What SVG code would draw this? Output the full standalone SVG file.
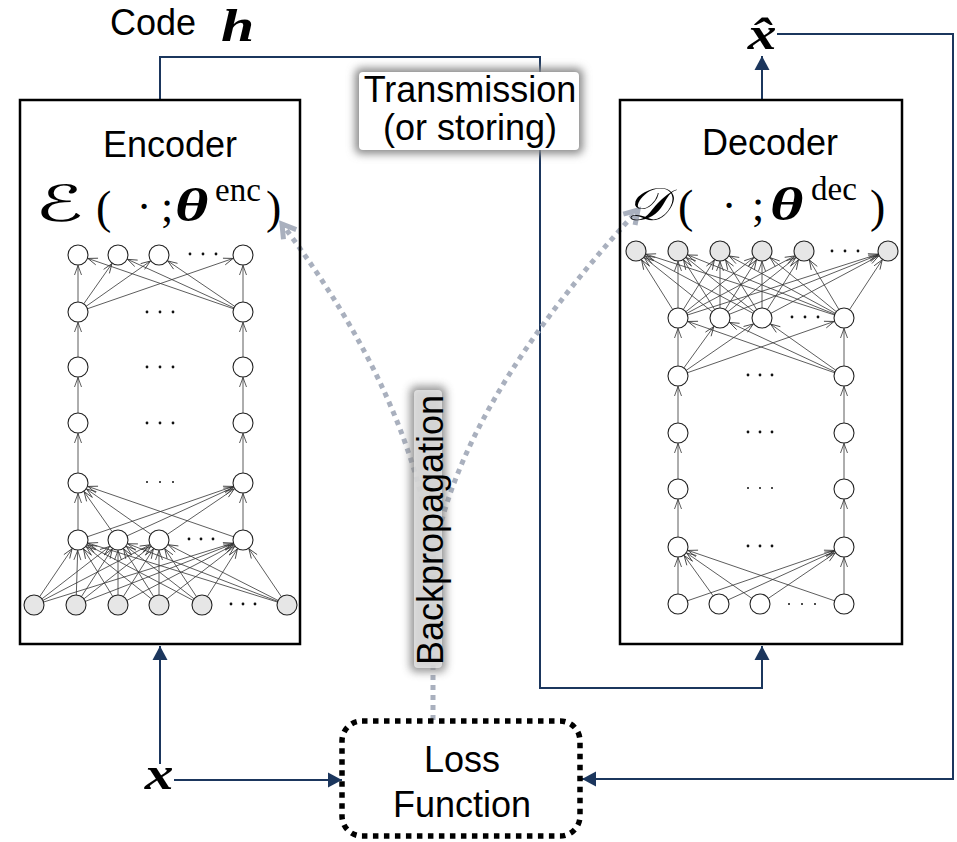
<svg xmlns="http://www.w3.org/2000/svg" width="957" height="842" viewBox="0 0 957 842">
<style>
.t{font-family:"Liberation Sans",Arial,sans-serif;font-size:36px;fill:#000}
.mi{font-family:"Liberation Serif","DejaVu Serif",serif;font-style:italic;font-weight:bold;fill:#000}
.mr{font-family:"Liberation Serif","DejaVu Serif",serif;fill:#000}
.cal{font-family:"DejaVu Serif","DejaVu Sans",serif;font-style:italic;fill:#000}
.box{fill:none;stroke:#000;stroke-width:2.5}
.c{stroke:#1b365d;stroke-width:2;fill:none}
.ca{stroke:#1b365d;stroke-width:2;fill:none;marker-end:url(#ah)}
.bp{stroke:#a9b0be;stroke-width:5;fill:none;stroke-dasharray:5 5}
.e{stroke:#333;stroke-width:0.8;marker-end:url(#va)}
.n{fill:#fff;stroke:#222;stroke-width:1.1}
.g{fill:#e6e6e6;stroke:#222;stroke-width:1.1}
.d{fill:#111}
</style>
<defs>
<marker id="ah" markerUnits="userSpaceOnUse" orient="auto" overflow="visible" markerWidth="1" markerHeight="1" refX="0" refY="0">
<path d="M-14,-7.5 L0,0 L-14,7.5 z" fill="#1b365d"/>
</marker>
<marker id="va" markerUnits="userSpaceOnUse" orient="auto" overflow="visible" markerWidth="1" markerHeight="1" refX="0" refY="0">
<path d="M-20,-3.5 L-10.5,0 L-20,3.5" fill="none" stroke="#333" stroke-width="0.8"/>
</marker>
<marker id="ga" markerUnits="userSpaceOnUse" orient="auto" overflow="visible" markerWidth="1" markerHeight="1" refX="0" refY="0">
<path d="M-13,-8 L0,0 L-13,8" fill="none" stroke="#a9b0be" stroke-width="5"/>
</marker>
<filter id="blur" x="-30%" y="-30%" width="160%" height="160%">
<feGaussianBlur stdDeviation="4"/>
</filter>
</defs>

<g id="connectors">
<polyline class="ca" points="160,100 160,57 540,57 540,688 762,688 762,646"/>
<polyline class="ca" points="762,100 762,56"/>
<polyline class="ca" points="777,34 953,34 953,779 582,779"/>
<polyline class="ca" points="160,764 160,646"/>
<polyline class="ca" points="174,780 342,780"/>
<path class="bp" d="M433,720 L433,560 Q415,400 282,224" marker-end="url(#ga)"/>
<path class="bp" d="M433,560 Q458,405 638,210" marker-end="url(#ga)"/>
</g>

<g id="encoder">
<rect class="box" x="20" y="100" width="280" height="544"/>
<text class="t" x="170" y="157" text-anchor="middle">Encoder</text>
<text class="cal" transform="translate(35,221) scale(1.6,1)" font-size="50">ℰ</text>
<text class="mr" x="96" y="223" font-size="46">(</text>
<text class="mr" x="144" y="221" font-size="44" text-anchor="middle">·</text>
<text class="mr" x="161" y="221" font-size="44">;</text>
<text class="mi" transform="translate(175,221) scale(1.4,1)" font-size="46">θ</text>
<text class="mr" x="215" y="201" font-size="33">enc</text>
<text class="mr" x="266" y="223" font-size="46">)</text>
<g>
<line class="e" x1="34" y1="605" x2="78" y2="540"/><line class="e" x1="34" y1="605" x2="118" y2="540"/><line class="e" x1="34" y1="605" x2="159" y2="540"/><line class="e" x1="34" y1="605" x2="243" y2="540"/>
<line class="e" x1="76" y1="605" x2="78" y2="540"/><line class="e" x1="76" y1="605" x2="118" y2="540"/><line class="e" x1="76" y1="605" x2="159" y2="540"/><line class="e" x1="76" y1="605" x2="243" y2="540"/>
<line class="e" x1="118" y1="605" x2="78" y2="540"/><line class="e" x1="118" y1="605" x2="118" y2="540"/><line class="e" x1="118" y1="605" x2="159" y2="540"/><line class="e" x1="118" y1="605" x2="243" y2="540"/>
<line class="e" x1="159" y1="605" x2="78" y2="540"/><line class="e" x1="159" y1="605" x2="118" y2="540"/><line class="e" x1="159" y1="605" x2="159" y2="540"/><line class="e" x1="159" y1="605" x2="243" y2="540"/>
<line class="e" x1="202" y1="605" x2="78" y2="540"/><line class="e" x1="202" y1="605" x2="118" y2="540"/><line class="e" x1="202" y1="605" x2="159" y2="540"/><line class="e" x1="202" y1="605" x2="243" y2="540"/>
<line class="e" x1="287" y1="605" x2="78" y2="540"/><line class="e" x1="287" y1="605" x2="118" y2="540"/><line class="e" x1="287" y1="605" x2="159" y2="540"/><line class="e" x1="287" y1="605" x2="243" y2="540"/>
<line class="e" x1="78" y1="540" x2="78" y2="483"/><line class="e" x1="78" y1="540" x2="243" y2="483"/><line class="e" x1="118" y1="540" x2="78" y2="483"/><line class="e" x1="118" y1="540" x2="243" y2="483"/>
<line class="e" x1="159" y1="540" x2="78" y2="483"/><line class="e" x1="159" y1="540" x2="243" y2="483"/><line class="e" x1="243" y1="540" x2="78" y2="483"/><line class="e" x1="243" y1="540" x2="243" y2="483"/>
<line class="e" x1="78" y1="483" x2="78" y2="423"/><line class="e" x1="78" y1="423" x2="78" y2="367"/><line class="e" x1="78" y1="367" x2="78" y2="312"/>
<line class="e" x1="243" y1="483" x2="243" y2="423"/><line class="e" x1="243" y1="423" x2="243" y2="367"/><line class="e" x1="243" y1="367" x2="243" y2="312"/>
<line class="e" x1="78" y1="312" x2="78" y2="255"/><line class="e" x1="78" y1="312" x2="118" y2="255"/><line class="e" x1="78" y1="312" x2="159" y2="255"/><line class="e" x1="78" y1="312" x2="243" y2="255"/>
<line class="e" x1="243" y1="312" x2="78" y2="255"/><line class="e" x1="243" y1="312" x2="118" y2="255"/><line class="e" x1="243" y1="312" x2="159" y2="255"/><line class="e" x1="243" y1="312" x2="243" y2="255"/>
</g>
<g>
<circle class="n" cx="78" cy="255" r="10"/><circle class="n" cx="118" cy="255" r="10"/><circle class="n" cx="159" cy="255" r="10"/><circle class="n" cx="243" cy="255" r="10"/>
<circle class="n" cx="78" cy="312" r="10"/><circle class="n" cx="243" cy="312" r="10"/>
<circle class="n" cx="78" cy="367" r="10"/><circle class="n" cx="243" cy="367" r="10"/>
<circle class="n" cx="78" cy="423" r="10"/><circle class="n" cx="243" cy="423" r="10"/>
<circle class="n" cx="78" cy="483" r="10"/><circle class="n" cx="243" cy="483" r="10"/>
<circle class="n" cx="78" cy="540" r="10"/><circle class="n" cx="118" cy="540" r="10"/><circle class="n" cx="159" cy="540" r="10"/><circle class="n" cx="243" cy="540" r="10"/>
<circle class="g" cx="34" cy="605" r="10"/><circle class="g" cx="76" cy="605" r="10"/><circle class="g" cx="118" cy="605" r="10"/><circle class="g" cx="159" cy="605" r="10"/><circle class="g" cx="202" cy="605" r="10"/><circle class="g" cx="287" cy="605" r="10"/>
</g>
<g class="d">
<circle cx="190" cy="254" r="1.4"/><circle cx="203" cy="254" r="1.4"/><circle cx="216" cy="254" r="1.4"/>
<circle cx="147" cy="312" r="1.4"/><circle cx="160" cy="312" r="1.4"/><circle cx="173" cy="312" r="1.4"/>
<circle cx="147" cy="367" r="1.4"/><circle cx="160" cy="367" r="1.4"/><circle cx="173" cy="367" r="1.4"/>
<circle cx="147" cy="423" r="1.4"/><circle cx="160" cy="423" r="1.4"/><circle cx="173" cy="423" r="1.4"/>
<circle cx="147" cy="482" r="1"/><circle cx="160" cy="482" r="1"/><circle cx="173" cy="482" r="1"/>
<circle cx="189" cy="539" r="1.4"/><circle cx="201" cy="539" r="1.4"/><circle cx="213" cy="539" r="1.4"/>
<circle cx="231" cy="604" r="1.4"/><circle cx="243" cy="604" r="1.4"/><circle cx="255" cy="604" r="1.4"/>
</g>
</g>

<g id="decoder">
<rect class="box" x="620" y="100" width="282" height="544"/>
<text class="t" x="770" y="155" text-anchor="middle">Decoder</text>
<text class="cal" transform="translate(626,220) scale(1.15,1)" font-size="46">𝒟</text>
<text class="mr" x="678" y="222" font-size="46">(</text>
<text class="mr" x="729" y="220" font-size="44" text-anchor="middle">·</text>
<text class="mr" x="752" y="220" font-size="44">;</text>
<text class="mi" transform="translate(770,220) scale(1.4,1)" font-size="46">θ</text>
<text class="mr" x="811" y="200" font-size="33">dec</text>
<text class="mr" x="870" y="222" font-size="46">)</text>
<g>
<line class="e" x1="678" y1="604" x2="678" y2="547"/><line class="e" x1="678" y1="604" x2="844" y2="547"/><line class="e" x1="719" y1="604" x2="678" y2="547"/><line class="e" x1="719" y1="604" x2="844" y2="547"/>
<line class="e" x1="760" y1="604" x2="678" y2="547"/><line class="e" x1="760" y1="604" x2="844" y2="547"/><line class="e" x1="844" y1="604" x2="678" y2="547"/><line class="e" x1="844" y1="604" x2="844" y2="547"/>
<line class="e" x1="678" y1="547" x2="678" y2="489"/><line class="e" x1="678" y1="489" x2="678" y2="433"/><line class="e" x1="678" y1="433" x2="678" y2="376"/>
<line class="e" x1="844" y1="547" x2="844" y2="489"/><line class="e" x1="844" y1="489" x2="844" y2="433"/><line class="e" x1="844" y1="433" x2="844" y2="376"/>
<line class="e" x1="678" y1="376" x2="678" y2="318"/><line class="e" x1="678" y1="376" x2="720" y2="318"/><line class="e" x1="678" y1="376" x2="762" y2="318"/><line class="e" x1="678" y1="376" x2="844" y2="318"/>
<line class="e" x1="844" y1="376" x2="678" y2="318"/><line class="e" x1="844" y1="376" x2="720" y2="318"/><line class="e" x1="844" y1="376" x2="762" y2="318"/><line class="e" x1="844" y1="376" x2="844" y2="318"/>
<line class="e" x1="678" y1="318" x2="636" y2="251"/><line class="e" x1="678" y1="318" x2="678" y2="251"/><line class="e" x1="678" y1="318" x2="720" y2="251"/><line class="e" x1="678" y1="318" x2="762" y2="251"/><line class="e" x1="678" y1="318" x2="804" y2="251"/><line class="e" x1="678" y1="318" x2="888" y2="251"/>
<line class="e" x1="720" y1="318" x2="636" y2="251"/><line class="e" x1="720" y1="318" x2="678" y2="251"/><line class="e" x1="720" y1="318" x2="720" y2="251"/><line class="e" x1="720" y1="318" x2="762" y2="251"/><line class="e" x1="720" y1="318" x2="804" y2="251"/><line class="e" x1="720" y1="318" x2="888" y2="251"/>
<line class="e" x1="762" y1="318" x2="636" y2="251"/><line class="e" x1="762" y1="318" x2="678" y2="251"/><line class="e" x1="762" y1="318" x2="720" y2="251"/><line class="e" x1="762" y1="318" x2="762" y2="251"/><line class="e" x1="762" y1="318" x2="804" y2="251"/><line class="e" x1="762" y1="318" x2="888" y2="251"/>
<line class="e" x1="844" y1="318" x2="636" y2="251"/><line class="e" x1="844" y1="318" x2="678" y2="251"/><line class="e" x1="844" y1="318" x2="720" y2="251"/><line class="e" x1="844" y1="318" x2="762" y2="251"/><line class="e" x1="844" y1="318" x2="804" y2="251"/><line class="e" x1="844" y1="318" x2="888" y2="251"/>
</g>
<g>
<circle class="g" cx="636" cy="251" r="10"/><circle class="g" cx="678" cy="251" r="10"/><circle class="g" cx="720" cy="251" r="10"/><circle class="g" cx="762" cy="251" r="10"/><circle class="g" cx="804" cy="251" r="10"/><circle class="g" cx="888" cy="251" r="10"/>
<circle class="n" cx="678" cy="318" r="10"/><circle class="n" cx="720" cy="318" r="10"/><circle class="n" cx="762" cy="318" r="10"/><circle class="n" cx="844" cy="318" r="10"/>
<circle class="n" cx="678" cy="376" r="10"/><circle class="n" cx="844" cy="376" r="10"/>
<circle class="n" cx="678" cy="433" r="10"/><circle class="n" cx="844" cy="433" r="10"/>
<circle class="n" cx="678" cy="489" r="10"/><circle class="n" cx="844" cy="489" r="10"/>
<circle class="n" cx="678" cy="547" r="10"/><circle class="n" cx="844" cy="547" r="10"/>
<circle class="n" cx="678" cy="604" r="10"/><circle class="n" cx="719" cy="604" r="10"/><circle class="n" cx="760" cy="604" r="10"/><circle class="n" cx="844" cy="604" r="10"/>
</g>
<g class="d">
<circle cx="832" cy="251" r="1.4"/><circle cx="845" cy="251" r="1.4"/><circle cx="858" cy="251" r="1.4"/>
<circle cx="792" cy="317" r="1.4"/><circle cx="805" cy="317" r="1.4"/><circle cx="818" cy="317" r="1.4"/>
<circle cx="748" cy="375" r="1.4"/><circle cx="760" cy="375" r="1.4"/><circle cx="772" cy="375" r="1.4"/>
<circle cx="748" cy="432" r="1.4"/><circle cx="760" cy="432" r="1.4"/><circle cx="772" cy="432" r="1.4"/>
<circle cx="748" cy="488" r="1"/><circle cx="760" cy="488" r="1"/><circle cx="772" cy="488" r="1"/>
<circle cx="748" cy="546" r="1.4"/><circle cx="760" cy="546" r="1.4"/><circle cx="772" cy="546" r="1.4"/>
<circle cx="789" cy="604" r="1"/><circle cx="802" cy="604" r="1"/><circle cx="815" cy="604" r="1"/>
</g>
</g>

<g id="code-label">
<text class="t" x="110" y="35" font-size="31">Code</text>
<text class="mi" transform="translate(221,41) scale(1.3,1)" font-size="46">h</text>
</g>

<g id="transmission">
<rect x="355" y="68" width="228" height="86" rx="6" fill="#8a8a8a" filter="url(#blur)"/>
<rect x="359" y="72" width="220" height="78" rx="4" fill="#fff"/>
<text class="t" x="470" y="102" text-anchor="middle" font-size="33">Transmission</text>
<text class="t" x="470" y="140" text-anchor="middle" font-size="33">(or storing)</text>
</g>

<g id="xhat">
<text class="mi" transform="translate(762,49) scale(1.25,1)" font-size="46" text-anchor="middle">x&#x302;</text>
</g>

<g id="x-input">
<text class="mi" transform="translate(159,789) scale(1.25,1)" font-size="46" text-anchor="middle">x</text>
</g>

<g id="backprop-label">
<rect x="410" y="386" width="36" height="286" rx="6" fill="#8a8a8a" filter="url(#blur)" opacity="0.9"/>
<rect x="414" y="390" width="28" height="278" rx="4" fill="#fff" opacity="0.6"/>
<text class="t" transform="translate(443,530) rotate(-90)" x="0" y="0" text-anchor="middle">Backpropagation</text>
</g>

<g id="loss">
<rect x="342" y="721" width="238" height="115" rx="20" fill="#fff" stroke="#000" stroke-width="5.5" stroke-dasharray="5.5 5.5"/>
<text class="t" x="462" y="772" text-anchor="middle">Loss</text>
<text class="t" x="462" y="817" text-anchor="middle">Function</text>
</g>
</svg>
